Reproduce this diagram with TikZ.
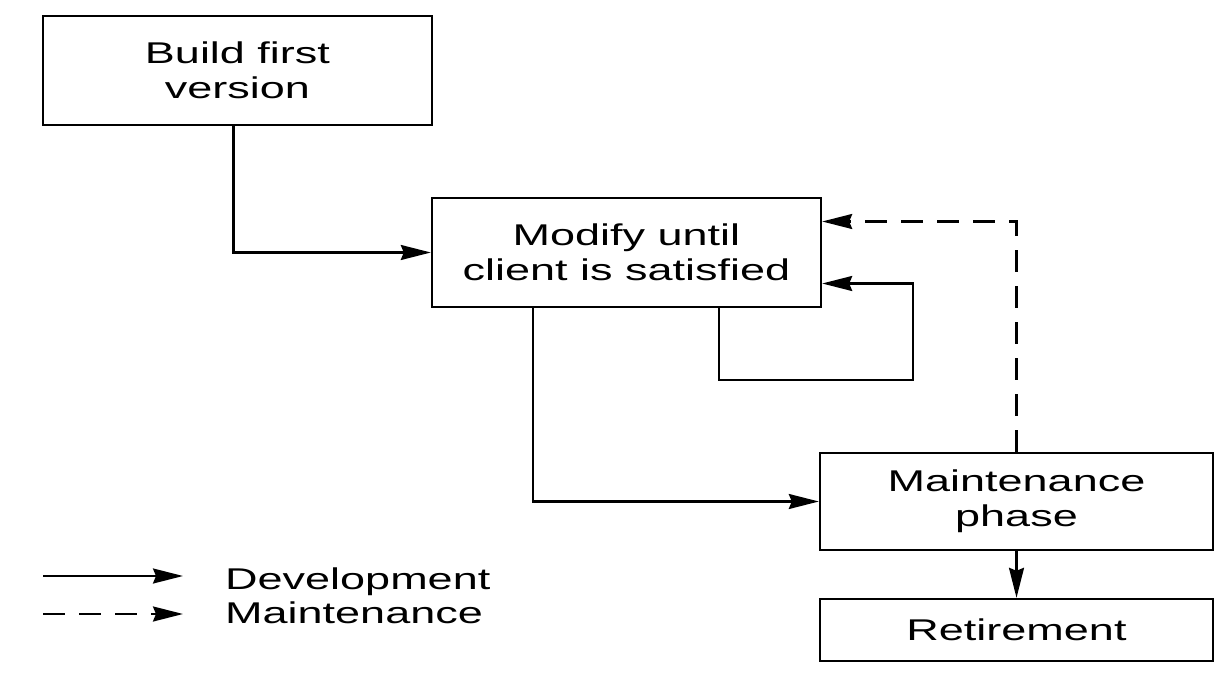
\documentclass[tikz,border=0pt]{standalone}
\usepackage{fontspec}
\setmainfont[FakeStretch=1.5]{Liberation Sans}
\usetikzlibrary{arrows.meta}

\begin{document}
\begin{tikzpicture}[x=1pt, y=-1pt,
  box/.style={draw, line width=2.4pt, align=center, inner sep=0pt,
              minimum width=389pt, font=\fontsize{30}{35}\selectfont},
  arr/.style={-{Stealth[length=30pt, width=15pt, inset=3pt]}, line width=2.2pt},
  maintline/.style={dash pattern=on 22pt off 14pt}
]
\useasboundingbox (0,0) rectangle (1226,676);

% Phases
\node[box, minimum height=109pt] at (237.5, 70.5)  (build)   {Build first\\version};
\node[box, minimum height=109pt] at (626.5, 252.5) (modify)  {Modify until\\client is satisfied};
\node[box, minimum width=393pt, minimum height=97pt] at (1016.5, 501.5) (maint) {Maintenance\\phase};
\node[box, minimum width=393pt, minimum height=62pt] at (1016.5, 630) (retire) {Retirement};

\coordinate (loopturn) at (913, 380);

% Arrows
\draw[arr] ([xshift=-4pt]build.south) |- (modify.west);
\draw[arr] ([xshift=102pt]modify.south west) |- (maint.west);
\draw[arr] ([xshift=288pt]modify.south west) |- (loopturn) |- ([yshift=-31pt]modify.east);
\draw[arr, maintline] (maint.north) |- ([yshift=31pt]modify.east);
\draw[arr] (maint.south) -- (retire.north);

% Legend
\coordinate (devfrom)   at (43, 576);
\coordinate (devto)     at (183, 576);
\coordinate (maintfrom) at (43, 614);
\coordinate (maintto)   at (183, 614);
\node[anchor=base west, inner sep=0pt, font=\fontsize{30}{35}\selectfont] at (225, 589) (devlabel)   {Development};
\node[anchor=base west, inner sep=0pt, font=\fontsize{30}{35}\selectfont] at (225, 623) (maintlabel) {Maintenance};
\draw[arr] (devfrom) -- (devto);
\draw[arr, maintline] (maintfrom) -- (maintto);

\end{tikzpicture}
\end{document}
